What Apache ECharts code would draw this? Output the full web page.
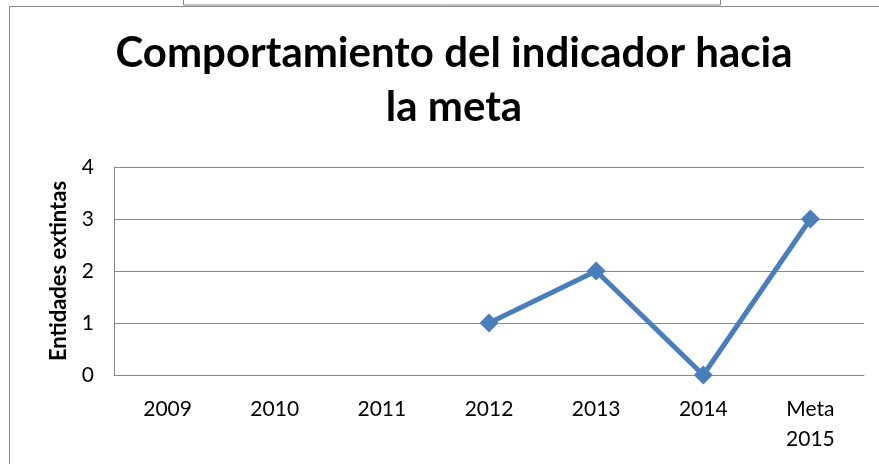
<!DOCTYPE html>
<html>
<head>
<meta charset="utf-8">
<script src="https://cdn.jsdelivr.net/npm/echarts@6/dist/echarts.min.js"></script>
<style>
html, body { margin: 0; padding: 0; background: #fff; }
#chart { width: 879px; height: 464px; }
</style>
</head>
<body>
<div id="chart"></div>
<script>
var categories = ['2009', '2010', '2011', '2012', '2013', '2014', 'Meta\n2015'];
var valores = [null, null, null, 1, 2, 0, 3];
var yTicks = [0, 1, 2, 3, 4];

var chart = echarts.init(document.getElementById('chart'));
var font = 'Lato, "Open Sans", sans-serif';

var option = {
	animation: false,
	backgroundColor: '#fff',
	title: {
		text: 'Comportamiento del indicador hacia\nla meta',
		left: 449,
		top: 21,
		textAlign: 'center',
		textStyle: {
			fontFamily: font,
			fontWeight: 'bold',
			fontSize: 42,
			lineHeight: 54,
			color: '#000'
		}
	},
	graphic: [{
		type: 'rect',
		shape: { x: 9.5, y: 6.5, width: 900, height: 480 },
		style: { fill: 'none', stroke: '#888', lineWidth: 1 }
	}, {
		type: 'rect',
		shape: { x: 183.5, y: -5, width: 537, height: 10 },
		style: { fill: '#fff', stroke: '#888', lineWidth: 1 }
	}],
	grid: {
		left: 114,
		right: 15,
		top: 167,
		bottom: 89
	},
	xAxis: {
		type: 'category',
		data: categories,
		boundaryGap: true,
		axisLine: { lineStyle: { color: '#888', width: 1 } },
		axisTick: { show: false },
		axisLabel: {
			color: '#000',
			fontFamily: font,
			fontSize: 21,
			lineHeight: 30,
			margin: 19
		}
	},
	yAxis: {
		type: 'value',
		min: yTicks[0],
		max: yTicks[yTicks.length - 1],
		interval: 1,
		name: 'Entidades extintas',
		nameLocation: 'middle',
		nameGap: 44,
		nameTextStyle: {
			color: '#000',
			fontFamily: font,
			fontWeight: 'bold',
			fontSize: 22
		},
		axisLine: { show: true, lineStyle: { color: '#888', width: 1 } },
		axisTick: { show: false },
		splitLine: { lineStyle: { color: '#888', width: 1 } },
		axisLabel: {
			color: '#000',
			fontFamily: font,
			fontSize: 21,
			margin: 20
		}
	},
	series: [{
		type: 'line',
		data: valores,
		connectNulls: false,
		symbol: 'diamond',
		symbolSize: 19,
		lineStyle: { color: '#4a7ebb', width: 5 },
		itemStyle: { color: '#4a7ebb' }
	}]
};
chart.setOption(option);
</script>
</body>
</html>
